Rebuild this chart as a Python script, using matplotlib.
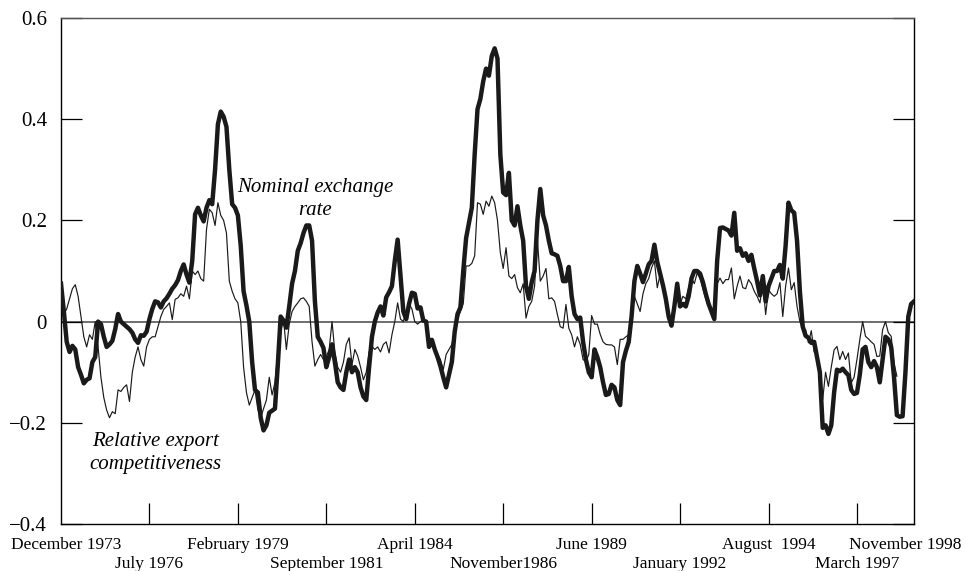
import matplotlib
matplotlib.use("Agg")
import matplotlib.pyplot as plt
import numpy as np

# Monthly observations, December 1973 - November 1998
start_year, start_month = 1973, 12

nominal_exchange_rate = [
    0.075, 0.02, -0.04, -0.06, -0.048, -0.055, -0.09, -0.105, -0.122, -0.115,
    -0.112, -0.08, -0.07, 0.0, -0.005, -0.03, -0.05, -0.045, -0.038, -0.015,
    0.015, 0.0, -0.005, -0.01, -0.015, -0.022, -0.035, -0.042, -0.027, -0.028,
    -0.02, 0.005, 0.025, 0.04, 0.038, 0.028, 0.04, 0.046, 0.055, 0.065,
    0.072, 0.082, 0.10, 0.113, 0.093, 0.077, 0.12, 0.212, 0.225, 0.21,
    0.198, 0.225, 0.24, 0.232, 0.30, 0.39, 0.415, 0.405, 0.385, 0.30,
    0.232, 0.225, 0.21, 0.15, 0.06, 0.032, 0.0, -0.08, -0.135, -0.14,
    -0.19, -0.215, -0.205, -0.18, -0.176, -0.172, -0.085, 0.01, 0.002, -0.012,
    0.03, 0.075, 0.10, 0.14, 0.155, 0.175, 0.19, 0.19, 0.16, 0.04,
    -0.03, -0.04, -0.052, -0.09, -0.07, -0.045, -0.08, -0.12, -0.13, -0.135,
    -0.10, -0.075, -0.10, -0.09, -0.10, -0.13, -0.148, -0.155, -0.09, -0.03,
    0.0, 0.018, 0.03, 0.012, 0.048, 0.058, 0.07, 0.12, 0.162, 0.09,
    0.02, 0.005, 0.035, 0.057, 0.055, 0.026, 0.028, 0.002, 0.0, -0.05,
    -0.036, -0.055, -0.07, -0.088, -0.11, -0.13, -0.105, -0.08, -0.02, 0.015,
    0.028, 0.10, 0.165, 0.195, 0.225, 0.33, 0.42, 0.44, 0.475, 0.50,
    0.486, 0.525, 0.54, 0.52, 0.33, 0.255, 0.25, 0.294, 0.20, 0.19,
    0.228, 0.19, 0.16, 0.07, 0.045, 0.078, 0.10, 0.20, 0.262, 0.21,
    0.19, 0.16, 0.135, 0.133, 0.13, 0.11, 0.08, 0.08, 0.108, 0.05,
    0.015, 0.005, 0.008, -0.04, -0.075, -0.10, -0.11, -0.055, -0.07, -0.09,
    -0.12, -0.145, -0.143, -0.125, -0.13, -0.155, -0.165, -0.08, -0.058, -0.04,
    0.01, 0.08, 0.11, 0.095, 0.078, 0.095, 0.113, 0.12, 0.152, 0.118,
    0.095, 0.072, 0.045, 0.01, -0.008, 0.03, 0.075, 0.03, 0.035, 0.03,
    0.05, 0.085, 0.10, 0.10, 0.095, 0.078, 0.055, 0.035, 0.02, 0.005,
    0.12, 0.185, 0.186, 0.183, 0.18, 0.17, 0.215, 0.14, 0.145, 0.13,
    0.135, 0.12, 0.132, 0.105, 0.08, 0.052, 0.09, 0.04, 0.07, 0.085,
    0.10, 0.10, 0.112, 0.085, 0.15, 0.235, 0.22, 0.215, 0.16, 0.06,
    -0.01, -0.028, -0.032, -0.042, -0.04, -0.07, -0.10, -0.21, -0.205, -0.222,
    -0.205, -0.14, -0.095, -0.098, -0.093, -0.10, -0.106, -0.135, -0.143, -0.141,
    -0.105, -0.055, -0.05, -0.08, -0.09, -0.078, -0.09, -0.12, -0.075, -0.03,
    -0.035, -0.05, -0.11, -0.185, -0.188, -0.187, -0.10, 0.01, 0.035, 0.04,
]

relative_export_competitiveness = [
    0.075, 0.015, 0.025, 0.045, 0.065, 0.073, 0.05, 0.01, -0.03, -0.05,
    -0.026, -0.035, 0.0, -0.05, -0.11, -0.15, -0.175, -0.19, -0.178, -0.182,
    -0.135, -0.138, -0.13, -0.125, -0.158, -0.10, -0.07, -0.05, -0.075, -0.088,
    -0.05, -0.035, -0.03, -0.03, -0.01, 0.01, 0.024, 0.03, 0.037, 0.004,
    0.044, 0.047, 0.055, 0.05, 0.07, 0.045, 0.10, 0.093, 0.10, 0.085,
    0.08, 0.182, 0.222, 0.215, 0.19, 0.235, 0.21, 0.20, 0.175, 0.08,
    0.06, 0.045, 0.037, 0.0, -0.09, -0.14, -0.165, -0.15, -0.135, -0.174,
    -0.19, -0.172, -0.155, -0.11, -0.145, -0.12, -0.06, -0.02, 0.004, -0.055,
    -0.005, 0.02, 0.03, 0.037, 0.045, 0.047, 0.04, 0.03, -0.04, -0.088,
    -0.075, -0.065, -0.075, -0.07, -0.055, 0.0, -0.06, -0.09, -0.10, -0.08,
    -0.045, -0.032, -0.085, -0.055, -0.068, -0.09, -0.115, -0.10, -0.06, -0.049,
    -0.055, -0.05, -0.06, -0.045, -0.04, -0.062, -0.026, 0.0, 0.037, 0.005,
    0.0, 0.02, 0.035, 0.025, 0.0, -0.005, 0.0, 0.003, -0.005, -0.045,
    -0.042, -0.055, -0.065, -0.075, -0.095, -0.065, -0.055, -0.045, -0.02, 0.005,
    0.02, 0.035, 0.11, 0.11, 0.115, 0.13, 0.235, 0.232, 0.212, 0.238,
    0.228, 0.248, 0.235, 0.20, 0.136, 0.105, 0.146, 0.09, 0.085, 0.093,
    0.067, 0.057, 0.075, 0.007, 0.03, 0.04, 0.07, 0.162, 0.08, 0.09,
    0.105, 0.045, 0.047, 0.04, 0.014, -0.01, -0.013, 0.034, -0.013, -0.026,
    -0.05, -0.03, -0.045, -0.075, -0.079, -0.065, 0.012, -0.005, -0.005, -0.025,
    -0.04, -0.045, -0.046, -0.046, -0.05, -0.085, -0.035, -0.035, -0.03, -0.026,
    0.012, 0.05, 0.035, 0.02, 0.055, 0.075, 0.085, 0.106, 0.12, 0.067,
    0.093, 0.075, 0.045, 0.003, 0.0, 0.04, 0.077, 0.035, 0.05, 0.045,
    0.067, 0.086, 0.075, 0.096, 0.085, 0.065, 0.045, 0.03, 0.02, 0.01,
    0.075, 0.086, 0.075, 0.083, 0.083, 0.106, 0.045, 0.07, 0.09, 0.067,
    0.065, 0.083, 0.075, 0.06, 0.05, 0.037, 0.077, 0.014, 0.063, 0.055,
    0.05, 0.055, 0.077, 0.01, 0.07, 0.106, 0.063, 0.077, 0.03, 0.0,
    -0.016, -0.016, -0.042, -0.018, -0.06, -0.062, -0.10, -0.154, -0.10, -0.128,
    -0.09, -0.056, -0.049, -0.075, -0.059, -0.075, -0.062, -0.121, -0.11, -0.075,
    -0.036, 0.0, -0.029, -0.034, -0.04, -0.045, -0.069, -0.068, -0.016, 0.0,
    -0.022, -0.029, -0.082, -0.108,
]

# Date labels on the time axis (two staggered rows)
date_labels = ["December 1973", "July 1976", "February 1979", "September 1981",
               "April 1984", "November1986", "June 1989", "January 1992",
               "August  1994", "March 1997", "November 1998"]
label_dates = [(1973, 12), (1976, 7), (1979, 2), (1981, 9), (1984, 4),
               (1986, 11), (1989, 6), (1992, 1), (1994, 8), (1997, 3),
               (1998, 11)]

y_ticks = [-0.4, -0.2, 0.0, 0.2, 0.4, 0.6]
y_tick_labels = ["\u22120.4", "\u22120.2", "0", "0.2", "0.4", "0.6"]


def month_index(year, month):
    return (year - start_year) * 12 + (month - start_month)


plt.rcParams["font.family"] = ["Liberation Serif", "DejaVu Serif"]

fig = plt.figure(figsize=(9.66, 5.71), dpi=100)
ax = fig.add_axes([61 / 966, 47 / 571, 853 / 966, 506 / 571])

x_nom = np.arange(len(nominal_exchange_rate))
x_rel = np.arange(len(relative_export_competitiveness))

ax.axhline(0, color="#555555", lw=1.2, zorder=1)
ax.plot(x_rel, relative_export_competitiveness, color="#1a1a1a", lw=0.85,
        zorder=2)
ax.plot(x_nom, nominal_exchange_rate, color="#1a1a1a", lw=3.2,
        solid_joinstyle="round", zorder=3)

ax.set_xlim(0, month_index(*label_dates[-1]))
ax.set_ylim(-0.4, 0.6)

# y axis: inward ticks on both sides
ax.set_yticks(y_ticks)
ax.set_yticklabels(y_tick_labels, fontsize=15)
ax.tick_params(axis="y", direction="in", length=15, width=0.9,
               left=True, right=True, pad=10)

# x axis: inward ticks, labels drawn in two rows
tick_pos = [month_index(y, m) for y, m in label_dates]
ax.set_xticks(tick_pos[1:-1])
ax.set_xticklabels([])
ax.tick_params(axis="x", direction="in", length=15, width=0.9)

for i, (pos, lab) in enumerate(zip(tick_pos, date_labels)):
    dy = -15 if i % 2 == 0 else -28.5
    dx = 0
    if i == 0:
        dx = 4
    elif i == len(tick_pos) - 1:
        dx = -6
    ax.annotate(lab, xy=(pos, 0), xycoords=("data", "axes fraction"),
                xytext=(dx, dy), textcoords="offset points",
                ha="center", va="center", fontsize=12.5, annotation_clip=False)

for side in ["left", "right", "bottom"]:
    ax.spines[side].set_color("black")
    ax.spines[side].set_linewidth(1.0)
ax.spines["top"].set_color("#555555")
ax.spines["top"].set_linewidth(1.0)

# Series annotations
ax.text(month_index(1981, 5), 0.243, "Nominal exchange\nrate", style="italic",
        fontsize=15, ha="center", va="center", linespacing=1.3)
ax.text(month_index(1976, 9), -0.26, "Relative export\ncompetitiveness",
        style="italic", fontsize=15, ha="center", va="center", linespacing=1.3)

fig.savefig("out.png", dpi=100)
